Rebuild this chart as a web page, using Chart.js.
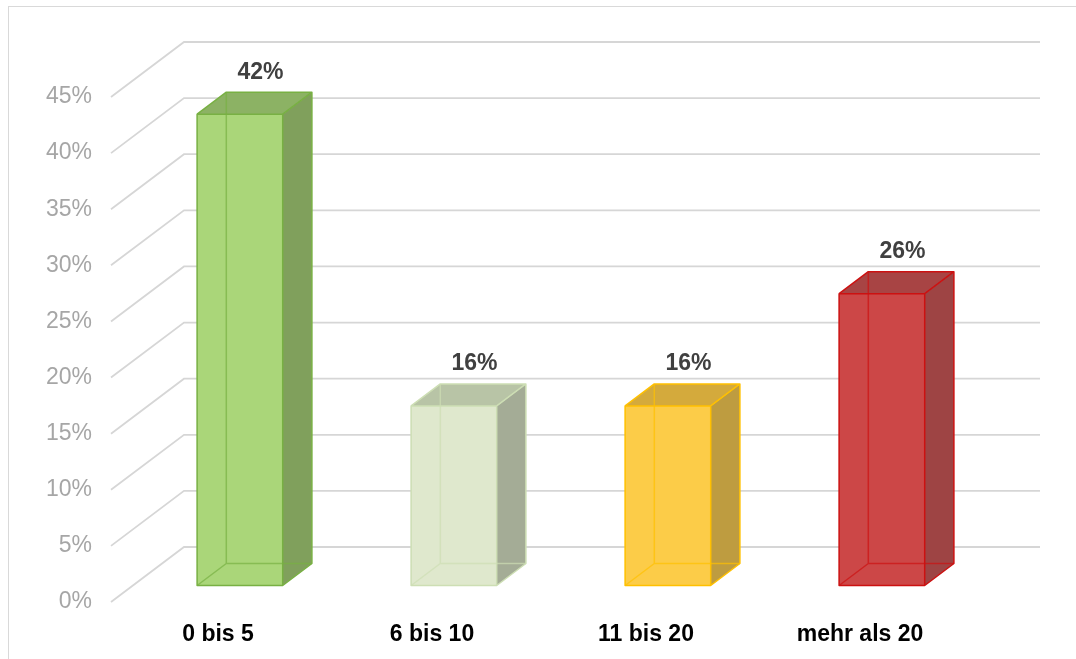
<!DOCTYPE html>
<html>
<head>
<meta charset="utf-8">
<title>Anteil nach Anzahl</title>
<script src="https://cdn.jsdelivr.net/npm/chart.js@4/dist/chart.umd.min.js"></script>
<style>
  html, body { margin: 0; padding: 0; background: #fff; }
  #chart { display: block; }
</style>
</head>
<body>
<canvas id="chart" width="1076" height="659"></canvas>
<script>
const categories = ["0 bis 5", "6 bis 10", "11 bis 20", "mehr als 20"];
const shares = [42, 16, 16, 26];
const yMax = 45;
const yStep = 5;

// face colours per bar: front, side, top, edge
const frontColors = ["#aad679", "#dfe8cd", "#fccc48", "#cc4747"];
const sideColors = ["#80a05c", "#a4ac96", "#be9c40", "#9e4444"];
const topColors = ["#8cb264", "#b8c4a6", "#d4aa3c", "#a84444"];
const edgeColors = ["#78b043", "#cddeb4", "#ffc000", "#cc1111"];

// oblique depth of the floor / back wall
const DX = 73;
const DY = 55;
// bars sit between these depth fractions
const D1 = 0.3;
const D2 = 0.7;

const box3d = {
  id: "box3d",
  beforeDraw(chart) {
    const ctx = chart.ctx;
    ctx.save();
    ctx.strokeStyle = "#d9d9d9";
    ctx.lineWidth = 1;
    ctx.strokeRect(8.5, 6.5, chart.width + 20, chart.height + 20);
    ctx.restore();
  },
  beforeDatasetsDraw(chart) {
    const ctx = chart.ctx;
    const y = chart.scales.y;
    const { left, right } = chart.chartArea;
    ctx.save();
    ctx.strokeStyle = "#d6d6d6";
    ctx.lineWidth = 1.8;
    y.ticks.forEach((t) => {
      const py = y.getPixelForValue(t.value);
      ctx.beginPath();
      ctx.moveTo(left, py);
      ctx.lineTo(left + DX, py - DY);
      ctx.lineTo(right + DX, py - DY);
      ctx.stroke();
    });
    ctx.restore();
  },
  afterDatasetsDraw(chart) {
    const ctx = chart.ctx;
    const meta = chart.getDatasetMeta(0);
    const ox = D1 * DX, oy = D1 * DY;
    const bx = (D2 - D1) * DX, by = (D2 - D1) * DY;

    meta.data.forEach((bar, i) => {
      const { x, y, base, width } = bar.getProps(["x", "y", "base", "width"], true);
      const x0 = x - width / 2 + ox;
      const x1 = x + width / 2 + ox;
      const yt = y - oy;
      const yb = base - oy;

      ctx.save();
      ctx.lineJoin = "round";

      // front
      ctx.fillStyle = frontColors[i];
      ctx.fillRect(x0, yt, x1 - x0, yb - yt);

      // right side
      ctx.fillStyle = sideColors[i];
      ctx.beginPath();
      ctx.moveTo(x1, yt);
      ctx.lineTo(x1 + bx, yt - by);
      ctx.lineTo(x1 + bx, yb - by);
      ctx.lineTo(x1, yb);
      ctx.closePath();
      ctx.fill();

      // top
      ctx.fillStyle = topColors[i];
      ctx.beginPath();
      ctx.moveTo(x0, yt);
      ctx.lineTo(x0 + bx, yt - by);
      ctx.lineTo(x1 + bx, yt - by);
      ctx.lineTo(x1, yt);
      ctx.closePath();
      ctx.fill();

      // hidden edges seen through the box
      ctx.strokeStyle = edgeColors[i];
      ctx.globalAlpha = 0.7;
      ctx.lineWidth = 1.5;
      ctx.beginPath();
      ctx.moveTo(x0 + bx, yt - by);
      ctx.lineTo(x0 + bx, yb - by);
      ctx.lineTo(x1 + bx, yb - by);
      ctx.moveTo(x0 + bx, yb - by);
      ctx.lineTo(x0, yb);
      ctx.stroke();

      // visible edges
      ctx.globalAlpha = 1;
      ctx.beginPath();
      ctx.rect(x0, yt, x1 - x0, yb - yt);
      ctx.moveTo(x0, yt);
      ctx.lineTo(x0 + bx, yt - by);
      ctx.lineTo(x1 + bx, yt - by);
      ctx.lineTo(x1, yt);
      ctx.moveTo(x1 + bx, yt - by);
      ctx.lineTo(x1 + bx, yb - by);
      ctx.lineTo(x1, yb);
      ctx.stroke();

      // value label above the box
      ctx.fillStyle = "#404040";
      ctx.font = "bold 23px 'Liberation Sans', Arial, sans-serif";
      ctx.textAlign = "center";
      ctx.textBaseline = "middle";
      ctx.fillText(shares[i] + "%", (x0 + x1 + bx) / 2 + 6, yt - by - 20);
      ctx.restore();
    });
  },
};

new Chart(document.getElementById("chart"), {
  type: "bar",
  data: {
    labels: categories,
    datasets: [
      {
        data: shares,
        backgroundColor: "rgba(0,0,0,0)",
        borderWidth: 0,
        barPercentage: 0.4,
        categoryPercentage: 1,
      },
    ],
  },
  options: {
    responsive: false,
    animation: false,
    devicePixelRatio: 1,
    layout: { padding: { top: 97, right: 109, left: 0, bottom: 0 } },
    plugins: {
      legend: { display: false },
      tooltip: { enabled: false },
    },
    scales: {
      x: {
        grid: { display: false },
        border: { display: false },
        ticks: {
          color: "#000",
          padding: 11,
          font: { family: "'Liberation Sans', Arial, sans-serif", size: 23, weight: "bold" },
        },
        afterFit: (scale) => { scale.height = 57; },
      },
      y: {
        min: 0,
        max: yMax,
        grid: { display: false },
        border: { display: false },
        ticks: {
          stepSize: yStep,
          color: "#a6a6a6",
          padding: 11,
          font: { family: "'Liberation Sans', Arial, sans-serif", size: 23 },
          callback: (v) => v + "%",
        },
        afterFit: (scale) => { scale.width = 111; },
      },
    },
  },
  plugins: [box3d],
});
</script>
</body>
</html>
